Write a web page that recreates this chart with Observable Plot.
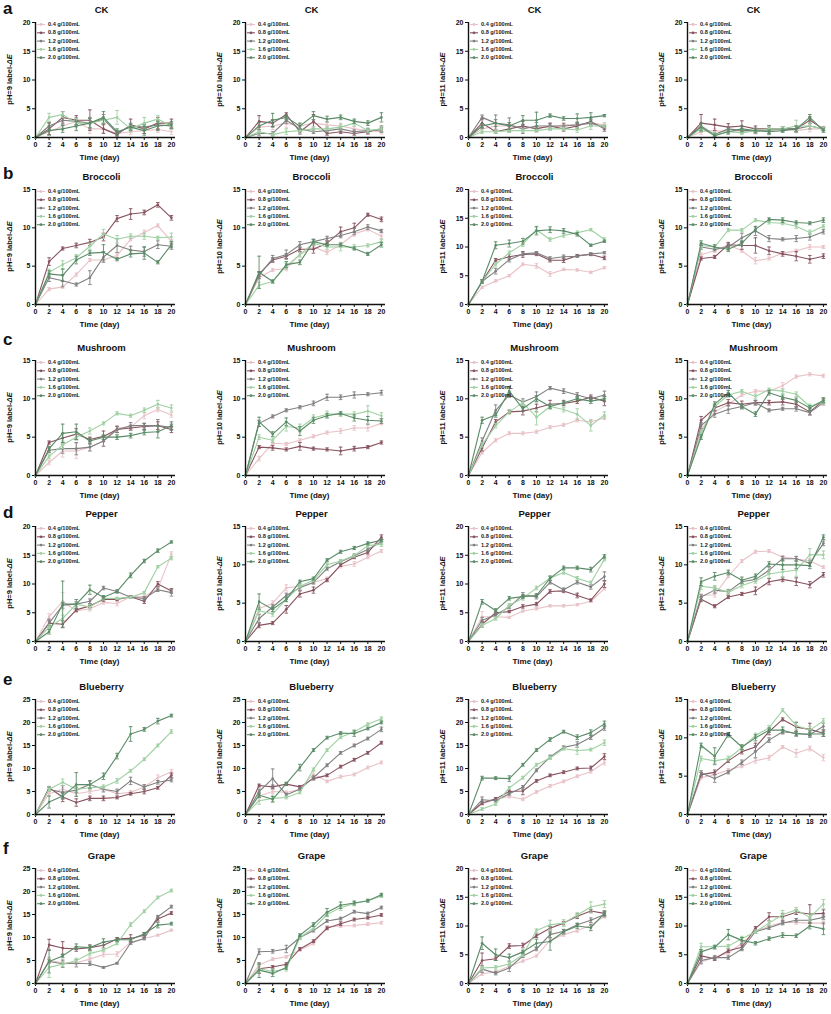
<!DOCTYPE html>
<html><head><meta charset="utf-8">
<script src="https://cdn.jsdelivr.net/npm/d3@7"></script>
<script src="https://cdn.jsdelivr.net/npm/@observablehq/plot@0.6"></script>
<style>
body{margin:0;background:#fff;}
#wrap{position:relative;width:831px;height:1014px;overflow:hidden;background:#fff}
.panel{position:absolute}
#letters{position:absolute;left:0;top:0;pointer-events:none}
</style></head><body><div id="wrap"></div>
<script>
const days = [0,2,4,6,8,10,12,14,16,18,20];
const concs = ["0.4 g/100mL","0.8 g/100mL","1.2 g/100mL","1.6 g/100mL","2.0 g/100mL"];
const colors = ["#e8c2c7","#87535f","#808080","#9fd0a2","#5b8c68"];
const foods = ["CK","Broccoli","Mushroom","Pepper","Blueberry","Grape"];
const letters = ["a","b","c","d","e","f"];
const phs = [9,10,11,12];
const yMaxes = [[20,20,20,20],[15,15,20,15],[15,15,15,15],[20,15,20,15],[25,25,25,15],[25,25,20,20]];

// ---- CK ----
const ck9 = [
[0,1.0,2.0,2.8,1.5,1.5,0.7,1.0,1.2,1.4,1.0],
[0,1.5,3.5,3.0,3.0,1.5,0.5,2.2,1.5,2.5,2.5],
[0,2.0,3.0,2.8,2.5,3.2,0.8,2.0,1.8,2.2,2.0],
[0,3.5,4.0,2.5,2.5,3.0,3.5,1.5,2.5,3.2,2.0],
[0,1.2,1.5,2.0,2.5,3.5,1.0,1.8,1.2,2.0,2.2]];
const ck9e = [
[0,0.5,0.8,0.6,0.8,0.6,0.4,0.5,0.5,0.5,0.5],
[0,1.0,1.0,0.8,1.8,0.8,0.4,1.0,0.8,1.0,0.7],
[0,0.6,0.8,0.6,1.0,0.8,0.4,0.5,0.6,0.8,0.5],
[0,0.7,0.5,0.8,0.8,0.6,1.2,0.6,1.0,0.6,0.5],
[0,0.8,0.6,0.8,0.8,1.0,0.5,0.5,0.8,0.8,0.6]];
const ck10 = [
[0,1.8,2.0,2.5,2.0,2.5,2.2,2.0,1.5,1.2,1.0],
[0,2.8,2.5,4.0,1.0,2.8,0.7,1.0,0.7,1.0,1.5],
[0,0.7,0.7,3.0,1.5,1.0,1.2,1.5,1.0,1.2,1.3],
[0,1.0,0.5,1.0,1.2,1.5,1.5,1.8,2.5,1.2,1.5],
[0,2.0,3.0,3.5,2.0,3.8,3.2,3.5,2.8,2.5,3.5]];
const ck10e = [
[0,0.5,0.6,0.8,0.5,0.6,0.5,0.5,0.4,0.4,0.4],
[0,1.0,0.6,0.3,0.4,1.2,0.3,0.3,0.3,0.4,0.5],
[0,0.4,0.3,0.6,0.5,0.3,0.4,0.4,0.3,0.4,0.4],
[0,0.4,0.3,0.5,0.4,0.4,0.4,0.5,0.5,0.3,0.4],
[0,0.6,1.2,0.4,0.5,0.7,0.5,0.4,0.4,0.4,0.8]];
const ck11 = [
[0,1.5,2.0,2.0,1.8,1.7,1.8,2.2,2.2,2.5,2.2],
[0,2.5,1.0,1.5,2.0,1.5,2.0,1.5,2.0,2.8,1.5],
[0,3.5,2.5,2.2,1.5,2.0,2.0,2.0,2.2,2.5,1.8],
[0,1.0,1.0,1.2,1.2,1.2,1.5,1.5,1.3,2.0,2.0],
[0,2.0,2.5,2.0,3.0,3.0,3.8,3.3,3.3,3.5,3.8]];
const ck11e = [
[0,0.5,0.4,0.4,0.4,0.4,0.4,0.4,0.4,0.4,0.4],
[0,0.8,0.3,0.5,0.8,0.4,0.5,0.4,0.5,0.6,0.4],
[0,0.4,1.4,1.2,0.8,0.6,0.4,0.4,0.5,0.6,0.3],
[0,0.3,0.3,0.3,0.3,0.3,0.3,0.3,0.4,0.6,0.3],
[0,0.4,0.6,0.6,0.8,1.4,0.3,0.3,0.8,0.8,0.2]];
const ck12 = [
[0,1.0,1.2,1.0,1.2,1.0,1.2,1.5,1.2,1.5,1.5],
[0,2.5,2.2,1.8,2.0,1.5,1.5,1.5,1.5,3.0,1.5],
[0,2.0,0.5,1.5,1.2,1.2,1.3,1.5,1.5,2.0,1.5],
[0,1.5,0.5,1.0,0.8,1.2,1.5,1.5,2.0,2.0,1.5],
[0,1.8,0.3,1.0,1.5,1.2,1.0,1.2,1.5,3.5,1.2]];
const ck12e = [
[0,0.5,0.4,0.4,0.4,0.4,0.5,0.4,0.4,0.5,0.3],
[0,1.5,1.0,0.6,0.9,0.5,0.5,0.4,0.5,0.6,0.3],
[0,0.5,0.3,0.4,0.4,0.4,0.8,0.4,0.5,0.5,0.3],
[0,0.5,0.3,0.3,0.3,0.4,0.4,0.4,1.0,0.5,0.3],
[0,0.6,0.3,0.4,0.5,0.4,0.3,0.3,0.5,0.5,0.3]];

// ---- Broccoli ----
const broc9 = [
[0,2.0,2.3,3.9,5.8,5.8,6.4,8.5,9.4,10.3,8.2],
[0,5.6,7.3,7.7,8.1,8.8,11.2,11.8,12.0,13.0,11.3],
[0,3.5,3.1,2.6,3.5,6.2,7.7,7.1,6.9,7.8,7.6],
[0,4.2,5.2,6.1,7.6,9.2,8.5,8.9,8.9,8.7,8.8],
[0,4.0,3.8,5.8,6.7,6.8,5.9,6.6,6.7,5.5,7.8]];
const broc9e = [
[0,0.2,0.2,0.2,0.2,0.2,0.3,0.2,0.3,0.2,0.3],
[0,0.5,0.2,0.3,0.4,0.5,0.4,0.7,0.3,0.3,0.3],
[0,0.5,0.8,0.2,0.9,0.7,0.9,0.5,0.6,0.5,0.4],
[0,0.4,0.5,0.4,0.4,0.6,0.5,0.3,0.4,0.2,0.5],
[0,0.4,0.8,0.5,0.3,1.0,0.2,0.4,0.8,0.2,0.4]];
const broc10 = [
[0,3.5,4.5,4.7,6.5,7.5,6.8,7.8,9.2,9.8,8.9],
[0,4.0,5.8,6.3,7.2,7.2,8.0,9.5,10.0,11.7,11.1],
[0,3.8,6.0,6.5,7.8,8.2,8.6,9.0,9.5,10.1,9.6],
[0,2.5,3.0,5.0,6.5,8.0,7.5,7.5,7.5,7.7,8.2],
[0,4.2,3.0,5.2,5.5,8.2,7.8,7.8,7.3,6.6,7.8]];
const broc10e = [
[0,0.2,0.2,0.3,0.3,0.3,0.3,0.3,0.3,0.2,0.3],
[0,0.3,0.3,0.3,0.3,0.5,0.3,0.6,0.6,0.2,0.3],
[0,0.4,0.4,0.6,0.4,0.3,0.3,0.3,0.4,0.3,0.2],
[0,0.4,0.2,0.4,0.3,0.3,0.3,0.5,0.3,0.2,0.3],
[0,2.1,0.2,0.4,0.3,0.3,0.2,0.2,0.2,0.2,0.3]];
const broc11 = [
[0,3.0,4.1,5.0,7.0,6.7,5.3,6.1,6.0,5.6,6.4],
[0,4.0,7.7,8.3,8.7,8.8,7.7,7.7,8.5,8.7,8.1],
[0,4.0,5.8,7.8,8.8,9.0,8.0,8.3,8.4,8.8,9.0],
[0,4.0,7.0,9.0,10.5,13.0,11.3,12.0,12.5,13.0,11.3],
[0,4.0,10.3,10.6,11.0,12.8,13.0,12.8,12.2,10.3,11.0]];
const broc11e = [
[0,0.2,0.2,0.2,0.2,0.4,0.4,0.2,0.2,0.2,0.2],
[0,0.3,0.3,0.4,0.5,0.3,0.3,0.4,0.2,0.2,0.3],
[0,0.3,0.5,0.4,0.3,0.2,0.3,0.3,0.2,0.2,0.2],
[0,0.3,0.3,0.3,0.4,0.6,0.3,0.3,0.3,0.2,0.3],
[0,0.3,0.6,0.6,0.5,0.7,0.5,0.4,0.3,0.2,0.2]];
const broc12 = [
[0,6.5,7.0,7.8,7.0,5.7,6.0,6.7,7.0,7.5,7.5],
[0,6.0,6.2,7.8,7.7,7.7,7.0,6.6,6.3,5.9,6.3],
[0,7.5,7.2,7.5,8.7,9.6,8.6,8.5,8.6,8.8,9.5],
[0,7.7,7.5,9.7,9.7,11.0,10.7,10.6,10.2,9.4,10.2],
[0,8.0,7.5,7.2,8.0,9.8,11.1,11.0,10.7,10.6,11.0]];
const broc12e = [
[0,0.2,0.2,0.2,0.2,0.4,0.2,0.2,0.2,0.3,0.2],
[0,0.2,0.2,0.3,0.5,1.0,0.5,0.3,0.6,0.5,0.3],
[0,0.3,0.2,0.4,0.6,0.6,0.4,0.2,0.4,0.4,0.3],
[0,0.3,0.2,0.2,0.2,0.2,0.2,0.2,0.3,0.3,0.2],
[0,0.3,0.3,0.3,0.3,0.3,0.2,0.3,0.2,0.2,0.3]];

// ---- Mushroom ----
const mush9 = [
[0,1.7,3.2,3.2,3.7,4.5,6.2,6.3,7.8,8.6,7.9],
[0,4.3,4.9,5.4,4.7,5.1,6.0,6.2,6.4,6.5,6.0],
[0,3.3,3.5,3.5,3.7,4.5,6.0,6.5,6.5,6.5,6.3],
[0,2.5,4.0,5.0,5.8,6.8,8.1,7.8,8.5,9.3,8.8],
[0,3.5,5.5,5.7,4.5,5.0,5.0,5.2,5.6,5.7,6.5]];
const mush9e = [
[0,0.3,0.8,1.0,0.5,0.6,0.3,0.3,0.4,0.3,0.3],
[0,0.2,0.6,0.7,0.3,0.7,0.4,0.3,0.4,0.5,0.4],
[0,0.3,0.6,0.8,0.5,0.7,0.4,0.4,0.3,0.8,0.4],
[0,0.3,0.5,0.4,0.4,0.2,0.2,0.2,0.3,0.5,0.4],
[0,0.3,1.2,1.0,0.4,0.3,0.3,0.3,0.3,0.8,0.5]];
const mush10 = [
[0,2.2,4.2,4.1,4.6,5.1,5.6,5.8,6.2,6.2,6.8],
[0,3.7,3.6,3.4,3.8,3.5,3.4,3.2,3.5,3.7,4.3],
[0,6.8,7.7,8.5,8.9,9.4,10.2,10.2,10.5,10.6,10.8],
[0,5.0,4.6,6.4,6.2,7.5,8.0,8.0,8.0,8.4,7.8],
[0,7.0,5.4,7.0,5.8,7.2,7.8,8.1,7.5,7.2,7.1]];
const mush10e = [
[0,0.3,0.2,0.2,0.2,0.2,0.2,0.3,0.3,0.4,0.2],
[0,0.2,0.3,0.2,0.5,0.2,0.2,0.5,0.3,0.2,0.2],
[0,0.4,0.2,0.2,0.2,0.3,0.4,0.3,0.4,0.2,0.3],
[0,0.3,0.3,0.6,0.5,0.4,0.4,0.3,0.3,0.7,0.4],
[0,0.6,0.3,0.5,0.6,0.4,0.3,0.2,0.4,0.5,0.3]];
const mush11 = [
[0,3.0,4.6,5.5,5.5,5.7,6.3,6.6,7.2,7.0,7.5],
[0,3.6,7.0,8.3,8.4,8.8,9.3,9.4,9.7,10.2,9.7],
[0,4.5,8.5,10.5,9.6,10.3,11.4,11.0,10.5,10.0,10.5],
[0,4.0,6.5,8.3,9.5,7.6,9.0,8.6,8.0,6.5,7.9],
[0,7.2,7.9,11.0,8.7,10.0,9.0,9.5,10.0,9.7,10.0]];
const mush11e = [
[0,0.2,0.2,0.2,0.2,0.2,0.2,0.2,0.2,0.3,0.2],
[0,0.4,0.3,0.2,0.5,0.5,0.5,0.3,0.3,0.3,0.6],
[0,0.4,0.7,0.3,0.4,0.6,0.2,0.3,0.3,0.3,0.5],
[0,0.3,0.3,0.3,0.3,1.0,0.3,0.3,0.7,0.7,0.4],
[0,0.4,0.3,0.6,0.3,0.4,0.3,0.3,0.3,0.3,0.3]];
const mush12 = [
[0,6.0,8.3,9.3,10.5,11.0,11.0,11.7,12.9,13.2,13.0],
[0,7.2,8.8,9.5,9.3,9.5,9.5,9.6,9.3,8.3,9.8],
[0,6.5,8.0,8.6,9.0,9.5,8.5,8.7,8.7,8.2,9.5],
[0,5.5,9.0,10.5,11.0,10.3,11.2,11.0,10.6,9.0,9.7],
[0,5.0,9.3,10.8,9.0,8.0,10.8,10.2,9.8,8.8,9.8]];
const mush12e = [
[0,0.2,0.2,0.2,0.2,0.2,0.2,0.4,0.2,0.2,0.2],
[0,0.5,0.3,0.4,0.4,0.3,0.3,0.4,0.4,0.4,0.3],
[0,0.4,0.4,0.5,0.3,0.3,0.2,0.2,0.3,0.3,0.3],
[0,0.3,0.3,0.3,0.2,0.3,0.2,0.3,0.3,0.3,0.3],
[0,0.3,0.3,0.3,0.3,0.3,0.3,0.3,0.3,0.3,0.3]];

// ---- Pepper ----
const pep9 = [
[0,4.3,7.0,5.3,5.7,6.8,6.6,7.8,7.8,9.2,15.2],
[0,3.2,3.0,5.5,6.2,7.3,7.3,7.8,7.0,10.0,8.8],
[0,3.2,6.3,6.5,7.0,9.3,8.7,7.7,7.5,9.0,8.5],
[0,2.5,4.0,6.5,6.0,7.5,7.5,7.7,8.5,13.0,14.5],
[0,1.7,6.5,6.5,9.0,7.7,8.7,11.5,14.0,15.8,17.3]];
const pep9e = [
[0,0.5,1.5,0.3,0.4,0.3,0.4,0.2,0.3,0.3,0.4],
[0,0.4,0.6,0.3,0.3,0.3,0.2,0.2,0.4,0.4,0.4],
[0,0.7,0.5,0.4,0.4,0.3,0.3,0.2,0.3,0.3,0.6],
[0,0.4,0.6,0.4,0.4,0.3,0.2,0.2,0.2,0.2,0.3],
[0,0.4,4.0,0.8,0.8,0.3,0.2,0.4,0.3,0.3,0.2]];
const pep10 = [
[0,4.3,5.0,7.0,7.2,7.7,8.2,9.8,10.1,11.0,11.8],
[0,2.1,2.4,4.2,6.2,6.7,8.0,10.0,11.0,11.6,13.6],
[0,3.0,4.5,6.0,7.0,7.7,9.5,10.4,11.2,12.0,13.0],
[0,4.0,3.6,5.5,7.2,8.0,10.0,10.5,11.2,12.5,12.7],
[0,5.2,4.2,5.5,7.8,8.2,10.6,11.7,12.2,12.8,13.2]];
const pep10e = [
[0,0.3,0.3,0.4,0.2,0.2,0.2,0.2,0.3,0.2,0.2],
[0,0.3,0.2,0.5,0.4,0.4,0.2,0.2,0.2,0.2,0.3],
[0,0.5,0.3,0.3,0.3,0.2,0.2,0.2,0.2,0.2,0.3],
[0,0.4,0.3,0.3,0.2,0.2,0.2,0.2,0.2,0.2,0.3],
[0,1.0,0.3,0.3,0.2,0.2,0.2,0.2,0.2,0.2,0.2]];
const pep11 = [
[0,4.3,4.3,4.2,5.3,5.7,6.2,6.2,6.4,7.0,9.2],
[0,3.0,5.0,5.2,6.1,6.5,8.7,8.8,8.0,7.2,10.0],
[0,3.7,4.6,6.0,8.1,7.8,10.3,9.0,10.3,9.5,11.3],
[0,2.8,4.0,6.3,7.5,9.3,11.0,12.0,11.0,10.2,14.3],
[0,6.9,5.4,7.5,7.8,8.0,11.0,12.8,12.8,12.5,14.8]];
const pep11e = [
[0,0.9,0.3,0.2,0.2,0.2,0.2,0.2,0.2,0.2,0.2],
[0,0.5,0.3,0.2,0.3,0.3,0.3,0.3,0.4,0.2,0.6],
[0,0.5,0.3,0.3,0.4,0.4,0.3,0.3,0.3,0.4,0.8],
[0,0.3,0.3,0.3,0.3,0.3,0.3,0.3,0.3,0.3,0.3],
[0,0.4,0.3,0.3,0.3,0.3,0.4,0.3,0.3,0.4,0.3]];
const pep12 = [
[0,6.0,6.1,8.5,10.5,11.7,11.8,11.0,10.8,10.5,9.7],
[0,5.5,4.6,5.8,6.2,6.6,7.8,8.1,7.8,7.4,8.7],
[0,5.8,6.7,6.5,7.8,8.1,9.3,10.8,10.8,10.2,12.8],
[0,7.2,7.0,6.4,7.3,7.9,8.8,9.1,9.3,11.3,11.3],
[0,7.8,8.5,9.0,8.0,8.5,10.1,10.0,10.0,9.9,13.6]];
const pep12e = [
[0,0.2,0.3,0.2,0.2,0.2,0.2,0.2,0.3,0.3,0.2],
[0,0.3,0.2,0.2,0.2,0.5,0.4,0.3,0.5,0.4,0.3],
[0,0.3,0.4,0.3,0.3,0.3,0.4,0.3,0.3,0.4,0.3],
[0,0.4,0.3,0.3,0.3,0.3,0.5,0.8,0.8,0.8,0.5],
[0,0.5,0.5,0.3,0.4,0.3,0.3,0.6,0.5,0.4,0.3]];

// ---- Blueberry ----
const blue9 = [
[0,4.5,5.5,4.5,5.0,5.5,4.5,4.8,6.0,8.0,9.3],
[0,5.8,3.8,2.6,3.5,3.5,3.7,4.5,5.0,5.8,8.5],
[0,5.5,4.8,5.3,6.5,5.5,5.0,7.3,6.0,7.0,7.5],
[0,5.5,7.0,5.5,5.8,6.0,7.3,9.5,12.0,15.0,18.0],
[0,2.7,4.0,6.5,6.5,8.3,12.7,17.5,18.5,20.3,21.5]];
const blue9e = [
[0,0.4,0.5,0.4,0.4,0.4,0.4,0.4,0.4,0.6,0.5],
[0,0.3,1.0,0.8,0.5,0.5,0.3,0.3,0.5,0.3,0.5],
[0,0.4,1.5,0.5,0.8,0.6,0.5,0.8,0.5,0.4,0.4],
[0,0.5,0.7,0.6,0.5,0.4,0.5,0.3,0.3,0.3,0.4],
[0,1.3,0.5,2.6,0.8,0.7,0.6,1.6,0.4,0.6,0.3]];
const blue10 = [
[0,4.0,5.0,4.8,5.5,8.8,7.2,8.2,8.7,10.2,11.3],
[0,6.3,6.0,6.6,6.0,7.8,8.5,10.4,11.9,13.4,15.6],
[0,5.0,7.8,4.3,5.5,8.0,10.7,13.4,15.0,16.5,18.5],
[0,3.0,3.5,3.7,4.8,9.8,14.0,16.8,18.0,19.6,20.8],
[0,4.2,3.3,6.7,10.2,14.0,16.7,17.7,17.6,18.7,20.0]];
const blue10e = [
[0,0.4,0.4,0.3,0.3,0.6,0.3,0.3,0.3,0.3,0.3],
[0,0.3,0.4,0.3,0.3,0.3,0.3,0.3,0.3,0.3,0.3],
[0,0.5,2.1,0.3,0.3,0.4,0.3,0.3,0.3,0.3,0.5],
[0,0.8,0.7,0.3,0.3,0.3,0.3,0.3,0.4,0.3,0.4],
[0,0.5,0.6,0.3,0.7,0.3,0.3,0.3,0.6,0.3,0.3]];
const blue11 = [
[0,2.3,3.3,3.9,3.3,4.9,6.2,7.2,8.3,9.3,11.3],
[0,2.5,3.4,5.0,5.1,7.3,8.5,9.2,10.0,10.1,12.6],
[0,3.2,3.0,4.5,5.9,9.6,12.5,14.6,15.2,16.8,18.8],
[0,1.2,2.3,5.8,8.0,10.8,12.3,14.3,13.9,14.1,15.6],
[0,7.9,7.9,7.8,10.8,14.0,16.3,18.0,16.8,17.8,19.7]];
const blue11e = [
[0,0.3,0.3,0.3,0.3,0.3,0.3,0.3,0.3,0.3,0.5],
[0,0.3,0.3,0.3,0.8,0.3,0.3,0.3,0.3,0.4,0.6],
[0,0.6,0.3,0.3,0.4,0.3,0.4,0.3,0.6,0.5,0.5],
[0,0.3,0.3,0.3,0.3,0.3,0.3,0.3,0.8,0.3,0.6],
[0,0.4,0.3,0.6,0.3,0.3,0.4,0.3,0.5,0.6,0.6]];
const blue12 = [
[0,4.8,5.2,5.8,6.3,7.0,7.4,8.8,8.0,8.6,7.4],
[0,5.2,5.5,7.0,8.2,8.8,10.8,12.4,11.4,11.1,10.6],
[0,5.4,4.7,5.5,6.8,8.2,9.7,10.8,10.6,10.4,11.5],
[0,7.3,7.0,7.3,8.7,10.3,11.3,13.6,11.6,11.0,12.2],
[0,9.0,7.6,10.4,8.8,10.0,11.0,11.0,10.5,10.5,10.5]];
const blue12e = [
[0,0.2,0.2,0.2,0.2,0.3,0.3,0.2,0.5,0.3,0.4],
[0,0.3,0.3,0.2,0.3,0.5,0.4,0.2,0.6,0.8,0.4],
[0,0.3,0.5,0.2,0.3,0.8,0.3,0.3,0.3,0.3,0.4],
[0,0.3,0.3,0.3,0.3,0.3,0.3,0.2,0.5,0.5,0.3],
[0,0.3,1.1,0.3,0.3,0.4,0.3,0.4,0.3,0.4,0.3]];

// ---- Grape ----
const grape9 = [
[0,5.0,4.5,4.5,5.3,6.3,6.4,9.0,9.8,10.5,11.6],
[0,8.4,7.7,7.5,7.8,8.3,9.7,9.8,10.5,14.0,15.3],
[0,4.8,4.3,4.4,4.3,3.5,4.4,8.8,9.8,14.5,16.7],
[0,3.5,4.2,5.0,6.5,7.3,8.7,12.8,15.7,18.7,20.2],
[0,4.8,6.0,8.0,7.8,9.0,9.5,9.5,10.8,12.7,13.0]];
const grape9e = [
[0,0.4,0.4,0.4,0.3,0.5,0.5,0.3,0.3,0.2,0.2],
[0,1.2,1.4,0.5,0.6,0.6,0.3,0.8,0.5,0.4,0.3],
[0,0.4,0.8,0.8,0.4,0.2,0.2,0.3,0.3,0.3,0.3],
[0,2.2,0.5,0.5,0.5,0.3,0.3,0.4,0.3,0.3,0.3],
[0,2.5,0.4,0.6,0.4,0.7,0.4,0.3,0.3,0.6,0.3]];
const grape10 = [
[0,4.0,5.3,5.8,7.3,8.7,12.3,12.5,12.6,12.9,13.2],
[0,3.2,3.6,4.2,7.5,9.2,12.0,13.0,13.9,14.3,14.9],
[0,6.9,7.0,7.5,10.0,11.5,13.6,14.1,15.6,15.2,16.5],
[0,3.2,2.6,3.2,10.0,12.0,15.0,16.5,17.4,18.0,19.0],
[0,2.9,2.2,3.5,10.5,12.8,15.5,17.0,17.5,18.0,19.3]];
const grape10e = [
[0,0.4,0.3,0.3,0.3,0.3,0.3,0.3,0.3,0.3,0.3],
[0,1.0,0.3,0.3,0.3,0.3,0.3,0.4,0.3,0.3,0.3],
[0,0.6,0.4,0.8,0.3,0.3,0.3,0.3,0.3,0.3,0.3],
[0,0.8,0.5,0.5,0.5,0.4,0.5,0.6,0.5,0.3,0.3],
[0,1.6,0.7,0.4,0.3,0.4,0.8,0.7,0.4,0.3,0.3]];
const grape11 = [
[0,1.7,2.0,3.0,3.9,4.8,7.5,8.5,9.2,10.1,11.7],
[0,4.0,4.3,6.5,6.6,8.3,9.6,10.5,11.7,12.6,12.2],
[0,2.5,1.8,2.7,4.8,6.0,8.5,9.1,10.2,11.0,12.0],
[0,2.7,2.8,3.4,5.0,9.2,10.2,10.5,11.9,13.3,13.8],
[0,7.0,5.0,4.5,5.5,7.0,7.3,9.0,10.0,9.7,12.2]];
const grape11e = [
[0,0.3,0.3,0.3,0.2,0.2,0.3,0.3,0.3,0.4,0.3],
[0,1.3,0.3,0.4,0.4,0.3,0.3,0.3,0.4,0.3,0.4],
[0,0.6,0.3,0.6,0.3,0.3,0.5,0.3,0.3,0.4,0.4],
[0,0.3,0.3,0.3,0.3,0.3,0.8,0.6,0.4,0.9,0.6],
[0,1.1,1.0,0.6,0.3,0.7,1.5,0.4,0.4,0.5,0.4]];
const grape12 = [
[0,3.7,4.6,5.3,7.0,9.0,10.0,10.6,10.6,10.5,10.5],
[0,4.8,4.3,5.7,6.3,9.6,11.6,11.6,12.4,12.1,12.2],
[0,4.0,4.5,4.5,6.0,9.0,9.7,10.5,11.0,11.0,11.5],
[0,6.4,6.4,6.5,7.8,9.0,10.5,12.0,12.8,11.5,13.8],
[0,5.5,6.3,8.5,7.5,7.0,7.8,8.4,8.3,10.0,9.5]];
const grape12e = [
[0,0.4,0.3,0.3,0.3,0.3,0.3,0.3,0.3,0.4,0.3],
[0,0.5,0.3,0.3,0.4,0.3,0.7,0.6,0.4,1.6,0.6],
[0,0.5,0.3,0.3,0.3,0.3,0.3,0.3,0.3,0.4,0.4],
[0,0.6,0.3,0.3,0.4,0.3,0.4,0.7,0.4,0.6,0.8],
[0,0.4,0.3,0.9,0.5,0.3,0.3,0.4,0.3,0.5,1.0]];

const panelVals = [[ck9,ck10,ck11,ck12],[broc9,broc10,broc11,broc12],[mush9,mush10,mush11,mush12],
  [pep9,pep10,pep11,pep12],[blue9,blue10,blue11,blue12],[grape9,grape10,grape11,grape12]];
const panelErrs = [[ck9e,ck10e,ck11e,ck12e],[broc9e,broc10e,broc11e,broc12e],[mush9e,mush10e,mush11e,mush12e],
  [pep9e,pep10e,pep11e,pep12e],[blue9e,blue10e,blue11e,blue12e],[grape9e,grape10e,grape11e,grape12e]];

// ---- layout ----
const FONT = '"Liberation Sans", Arial, Helvetica, sans-serif';
const colAxisX = [35, 245, 468, 687];
const rowTopY = [22, 189, 360, 526, 699, 868];
const letterBase = [14, 179, 345, 518, 685, 854];
const mL = 34, mR = 8, mT = 26, mB = 32, PW = 140, PH = 115;
const W = mL + PW + mR, H = mT + PH + mB;

const cap = {draw(ctx, size){ const w = Math.sqrt(size/Math.PI); ctx.moveTo(-w,0); ctx.lineTo(w,0); }};

const wrap = document.getElementById("wrap");

function drawPanel(r, c){
  const vals = panelVals[r][c], errs = panelErrs[r][c], ymax = yMaxes[r][c];
  const marks = [];
  vals.forEach((series, i) => {
    const data = series.map((v, j) => ({x: days[j], y: v, e: errs[i][j]}));
    const we = data.filter(d => d.e > 0);
    marks.push(Plot.ruleX(we, {x:"x", y1: d => Math.max(0, d.y - d.e), y2: d => d.y + d.e, stroke: colors[i], strokeWidth: 0.9}));
    marks.push(Plot.dot(we, {x:"x", y: d => d.y + d.e, symbol: cap, r: 1.8, fill: "none", stroke: colors[i], strokeWidth: 0.9}));
    marks.push(Plot.dot(we, {x:"x", y: d => Math.max(0, d.y - d.e), symbol: cap, r: 1.8, fill: "none", stroke: colors[i], strokeWidth: 0.9}));
    marks.push(Plot.line(data, {x:"x", y:"y", stroke: colors[i], strokeWidth: 1.1}));
    marks.push(Plot.dot(data, {x:"x", y:"y", r: 1.3, fill: colors[i], stroke: "none"}));
  });
  marks.push(Plot.ruleY([0], {stroke: "#111", strokeWidth: 1.4}));
  marks.push(Plot.ruleX([0], {y1: 0, y2: ymax, stroke: "#111", strokeWidth: 1.4}));
  marks.push(Plot.text([foods[r]], {text: d => d, frameAnchor: "top", dy: -16, dx: -4, fontSize: 9.5, fontWeight: "bold", fill: "#111"}));
  marks.push(Plot.text(["Time (day)"], {text: d => d, frameAnchor: "bottom", dy: 22, dx: -6, fontSize: 8, fontWeight: "bold", fill: "#111"}));

  const svg = Plot.plot({
    width: W, height: H, marginLeft: mL, marginRight: mR, marginTop: mT, marginBottom: mB,
    style: {fontFamily: FONT, fontSize: "7px", fontWeight: "bold", color: "#111", background: "transparent", overflow: "visible"},
    x: {domain: [0, 20.6], ticks: days, tickSize: 3, tickPadding: 2, label: null, tickFormat: d => String(d)},
    y: {domain: [0, ymax], ticks: d3.range(0, ymax + 0.1, 5), tickSize: 3, tickPadding: 2, label: null, tickFormat: d => String(d)},
    marks
  });
  const s = d3.select(svg);
  // y-axis label
  const yl = s.append("text")
    .attr("transform", `translate(${mL - 25},${mT + PH/2}) rotate(-90)`)
    .attr("text-anchor", "middle").attr("dominant-baseline", "middle")
    .attr("font-size", 7.5).attr("font-weight", "bold").attr("fill", "#111");
  yl.append("tspan").text(`pH=${phs[c]} label-`);
  yl.append("tspan").attr("font-style", "italic").text("ΔE");
  // legend
  const lg = s.append("g").attr("text-anchor", "start");
  concs.forEach((name, i) => {
    const y = mT + 2.5 + i * 8.3;
    lg.append("line").attr("x1", mL + 2).attr("x2", mL + 10).attr("y1", y).attr("y2", y)
      .attr("stroke", colors[i]).attr("stroke-width", 1.1);
    lg.append("circle").attr("cx", mL + 6).attr("cy", y).attr("r", 1.4).attr("fill", colors[i]);
    lg.append("text").attr("x", mL + 13).attr("y", y).attr("dominant-baseline", "middle")
      .attr("text-anchor", "start")
      .attr("font-size", 5.6).attr("font-weight", "bold").attr("fill", "#222").text(name);
  });
  svg.classList.add("panel");
  svg.style.position = "absolute";
  svg.style.left = (colAxisX[c] - mL) + "px";
  svg.style.top = (rowTopY[r] - mT) + "px";
  wrap.appendChild(svg);
}

for (let r = 0; r < 6; r++) for (let c = 0; c < 4; c++) drawPanel(r, c);

// panel letters
const ov = d3.select(wrap).append("svg").attr("id", "letters").attr("width", 831).attr("height", 1014);
letters.forEach((l, r) => {
  ov.append("text").attr("x", 3).attr("y", letterBase[r]).attr("font-family", FONT)
    .attr("font-size", 17).attr("font-weight", "bold").attr("fill", "#111").text(l);
});
</script>
</body></html>
